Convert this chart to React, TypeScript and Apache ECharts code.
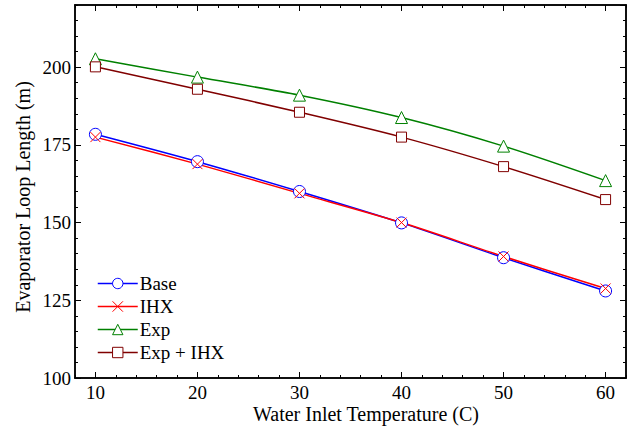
import React, { useEffect, useRef } from "react";
import * as echarts from "echarts";

// Water inlet temperature (C)
const temps = [10, 20, 30, 40, 50, 60];

// Evaporator loop length (m) per cycle configuration
const baseLen = [178.4, 169.6, 160.0, 149.9, 138.7, 128.0];
const ihxLen = [177.5, 168.8, 159.4, 150.0, 139.1, 128.8];
const expLen = [202.7, 196.8, 191.0, 183.8, 174.6, 163.5];
const expIhxLen = [200.1, 192.9, 185.5, 177.5, 168.0, 157.4];

const seriesNames = ["Base", "IHX", "Exp", "Exp + IHX"];
const xMajorTicks = [10, 20, 30, 40, 50, 60];

const FONT = "'Liberation Serif', 'Times New Roman', serif";
const CROSS = "path://M0,0L10,10M10,0L0,10";

export default function App() {
  const ref = useRef<HTMLDivElement>(null);

  useEffect(() => {
    if (!ref.current) return;
    const chart = echarts.init(ref.current, undefined, { renderer: "svg" });

    const pairs = (ys: number[]) => temps.map((t, i) => [t, ys[i]]);

    const axisLine = { show: true, onZero: false, lineStyle: { color: "#000", width: 1.5 } };
    const noLabel = { show: false };
    const noSplit = { show: false };

    const xBase = { type: "value" as const, min: 8, max: 62, splitLine: noSplit, axisLine };
    const yBase = { type: "value" as const, min: 100, max: 220, splitLine: noSplit, axisLine };

    const majorTickX = { show: true, inside: true, length: 6, lineStyle: { color: "#000", width: 1 }, customValues: xMajorTicks };
    const minorTick = { show: true, inside: true, length: 3, lineStyle: { color: "#000", width: 1 } };
    const majorTickY = { show: true, inside: true, length: 6, lineStyle: { color: "#000", width: 1 } };

    const lineSeries = (
      name: string,
      ys: number[],
      color: string,
      symbol: string,
      size: number,
      fill: string
    ) => ({
      name,
      type: "line" as const,
      data: pairs(ys),
      smooth: 0.3,
      symbol,
      symbolSize: size,
      showAllSymbol: true,
      lineStyle: { color, width: 1.5 },
      itemStyle: { color: fill, borderColor: color, borderWidth: 1 },
      z: 3,
    });

    chart.setOption({
      animation: false,
      backgroundColor: "#fff",
      textStyle: { fontFamily: FONT },
      grid: { left: 75, right: 4, top: 5, bottom: 49, containLabel: false },
      xAxis: [
        {
          ...xBase,
          position: "bottom",
          axisTick: majorTickX,
          axisLabel: { show: true, customValues: xMajorTicks, color: "#000", fontSize: 19, fontFamily: FONT, margin: 5 },
        },
        { ...xBase, position: "bottom", interval: 2, axisTick: minorTick, axisLabel: noLabel },
        { ...xBase, position: "top", axisTick: majorTickX, axisLabel: noLabel },
        { ...xBase, position: "top", interval: 2, axisTick: minorTick, axisLabel: noLabel },
      ],
      yAxis: [
        {
          ...yBase,
          position: "left",
          interval: 25,
          axisTick: majorTickY,
          axisLabel: { show: true, color: "#000", fontSize: 19, fontFamily: FONT, margin: 4, showMaxLabel: false },
        },
        { ...yBase, position: "left", interval: 5, axisTick: minorTick, axisLabel: noLabel },
        { ...yBase, position: "right", interval: 25, axisTick: majorTickY, axisLabel: noLabel },
        { ...yBase, position: "right", interval: 5, axisTick: minorTick, axisLabel: noLabel },
      ],
      legend: {
        data: seriesNames,
        orient: "vertical",
        left: 92,
        top: 269,
        padding: 5,
        itemWidth: 40,
        itemHeight: 13,
        itemGap: 4,
        itemStyle: { borderWidth: 1 },
        lineStyle: { width: 1.5 },
        textStyle: { color: "#000", fontSize: 19, lineHeight: 19, fontFamily: FONT, padding: [0, 0, 0, -3] },
      },
      series: [
        lineSeries(seriesNames[0], baseLen, "#0000ff", "circle", 12, "#fff"),
        lineSeries(seriesNames[1], ihxLen, "#ff0000", CROSS, 10, "#ff0000"),
        lineSeries(seriesNames[2], expLen, "#008000", "triangle", 12, "#fff"),
        lineSeries(seriesNames[3], expIhxLen, "#800000", "rect", 10, "#fff"),
      ],
      graphic: [
        {
          type: "text",
          x: 366,
          y: 414,
          style: {
            text: "Water Inlet Temperature (C)",
            font: `20px ${FONT}`,
            fill: "#000",
            align: "center",
            verticalAlign: "middle",
          },
        },
        {
          type: "text",
          x: 23,
          y: 197,
          rotation: Math.PI / 2,
          style: {
            text: "Evaporator Loop Length (m)",
            font: `20px ${FONT}`,
            fill: "#000",
            align: "center",
            verticalAlign: "middle",
          },
        },
      ],
    });

    return () => chart.dispose();
  }, []);

  return (
    <div
      ref={ref}
      style={{ position: "fixed", left: 0, top: 0, width: 630, height: 427, background: "#fff" }}
    />
  );
}
